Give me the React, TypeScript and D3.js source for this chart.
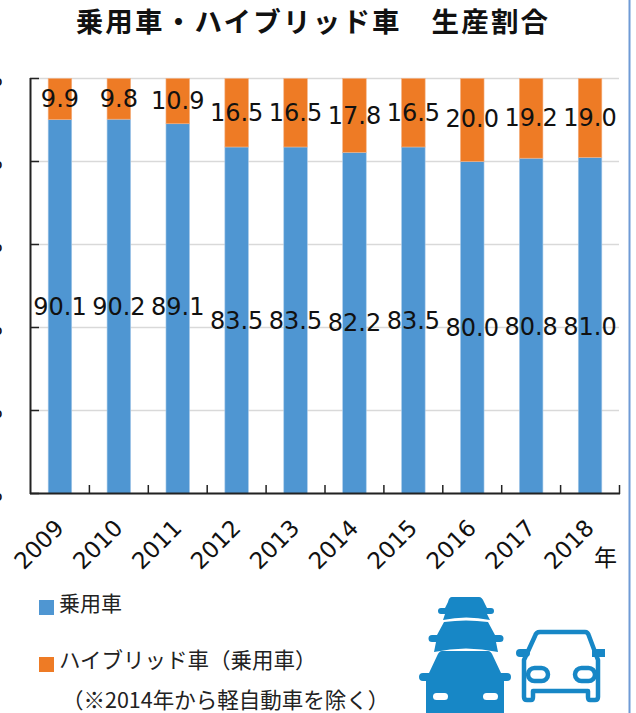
import React from "react";
import * as d3 from "d3";

const years = ["2009","2010","2011","2012","2013","2014","2015","2016","2017","2018"];
const passenger = [90.1,90.2,89.1,83.5,83.5,82.2,83.5,80.0,80.8,81.0];
const hybrid = [9.9,9.8,10.9,16.5,16.5,17.8,16.5,20.0,19.2,19.0];
const yTicks = [0,20,40,60,80,100];
const passengerLabelY = [306,306,306,320,320,322,320,327,326,326];
const hybridLabelY = [98,98,100,112,112,115,112,118,117,117];

const FONT = "'DejaVu Sans', 'Noto Sans CJK JP', sans-serif";
const JP = "'Noto Sans CJK JP', sans-serif";

export default function App() {
  const x = d3.scaleBand().domain(years).range([30.5, 619.5]).paddingInner(0.6).paddingOuter(0.3);
  const bandStep = x.step();
  const y = d3.scaleLinear().domain([0, 100]).range([493.5, 78.5]);
  const edges = d3.range(years.length + 1).map((i) => 30.5 + i * (589 / years.length));
  return (
    <svg width={636} height={713} style={{ position: "absolute", left: 0, top: 0, background: "#fff" }}>
      <text x={313} y={32} textAnchor="middle" fontFamily={JP} fontWeight={700} fontSize={27.5} letterSpacing={2.2} fill="#111">乗用車・ハイブリッド車　生産割合</text>
      {yTicks.map((t) => (
        <g key={t}>
          <line x1={30} x2={619} y1={y(t)} y2={y(t)} stroke="#d9d9d9" strokeWidth={1.5} />
          <line x1={30} x2={39} y1={y(t)} y2={y(t)} stroke="#222" strokeWidth={1.5} />
          <text x={3} y={y(t) + 7} textAnchor="end" fontFamily={FONT} fontSize={22} fill="#111">{t}%</text>
        </g>
      ))}
      {years.map((yr, i) => {
        const bx = edges[i] + bandStep * 0.3;
        const bw = bandStep * 0.4;
        return (
          <g key={yr}>
            <rect x={bx} width={bw} y={y(passenger[i])} height={y(0) - y(passenger[i])} fill="#4f96d2" stroke="#a9cbe9" strokeWidth={0.6} />
            <rect x={bx} width={bw} y={y(100)} height={y(passenger[i]) - y(100)} fill="#ee7b25" stroke="#f4b183" strokeWidth={0.6} />
          </g>
        );
      })}
      <line x1={30.5} x2={30.5} y1={78} y2={494} stroke="#222" strokeWidth={2} />
      <line x1={30} x2={620} y1={493.5} y2={493.5} stroke="#222" strokeWidth={2} />
      {edges.slice(1).map((e, i) => (
        <line key={i} x1={e} x2={e} y1={485} y2={494} stroke="#222" strokeWidth={1.5} />
      ))}
      {years.map((yr, i) => {
        const cx = edges[i] + bandStep / 2;
        return (
          <g key={yr} fontFamily={FONT} fontSize={24} fill="#111" textAnchor="middle">
            <text x={cx} y={passengerLabelY[i] + 9}>{passenger[i].toFixed(1)}</text>
            <text x={cx} y={hybridLabelY[i] + 9}>{hybrid[i].toFixed(1)}</text>
            <text transform={`translate(${cx - 21},544.5) rotate(-45)`} y={8} fontSize={23}>{yr}</text>
          </g>
        );
      })}
      <text x={594} y={566} fontFamily={JP} fontSize={23} fill="#111">年</text>
      <rect x={39} y={600} width={15} height={15} fill="#4f96d2" />
      <text x={59} y={611} fontFamily={JP} fontSize={21} fill="#222">乗用車</text>
      <rect x={39} y={657} width={15} height={15} fill="#ee7b25" />
      <text x={59} y={668} fontFamily={JP} fontSize={21.5} fill="#222">ハイブリッド車（乗用車）</text>
      <text x={62} y={708} fontFamily={JP} fontSize={21.5} fill="#222">（※2014年から軽自動車を除く）</text>
      <line x1={629.5} x2={629.5} y1={0} y2={713} stroke="#6f9bd6" strokeWidth={2} />
      {/* car icons */}
      <g fill="#1787c6">
        <path d="M452 597H479Q482 597 484 602L487 608H491a3 3 0 0 1 0 6H487L490 620Q466 615 443 620L445 614H441a3 3 0 0 1 0-6H445L448 602Q449 597 452 597Z" />
        <path d="M444 622Q466 619 488 622L495 635H500a3 3 0 0 1 0 7H496L498 652Q466 645 434 652L436 642H432a3 3 0 0 1 0-7H437Z" />
        <path d="M442 651H488Q491 651 493 656L501 673H507a4 4 0 0 1 0 8H504V713H426V681H423a4 4 0 0 1 0-8H429L437 656Q439 651 442 651Z" />
      </g>
      <g fill="#fff">
        <rect x="433" y="693" width="15" height="7" rx="3.5" />
        <rect x="483" y="693" width="15" height="7" rx="3.5" />
      </g>
      <g fill="none" stroke="#1787c6" strokeWidth={4.5} strokeLinejoin="round">
        <path d="M540 632H585Q588 632 589 636L598 660V697Q598 700 595 700H590Q588 700 588 697V691H533V697Q533 700 531 700H527Q524 700 524 697V660L535 636Q536 632 540 632Z" />
        <rect x="528" y="668" width="20" height="13" rx="6.5" />
        <rect x="575" y="668" width="20" height="13" rx="6.5" />
      </g>
      <g fill="#1787c6">
        <rect x="516" y="649" width="14" height="8" rx="4" />
        <rect x="592" y="649" width="13" height="8" />
      </g>
    </svg>
  );
}
